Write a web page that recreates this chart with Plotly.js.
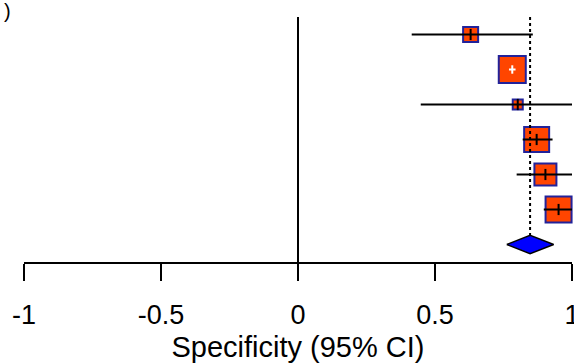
<!DOCTYPE html>
<html>
<head>
<meta charset="utf-8">
<script src="https://cdn.plot.ly/plotly-3.0.1.min.js"></script>
<style>html,body{margin:0;padding:0;background:#fff;}#chart{width:574px;height:363px;}</style>
</head>
<body>
<div id="chart"></div>
<script>
// ---- data ----
const studyRows = [1, 2, 3, 4, 5, 6];
const specificity = [0.630, 0.782, 0.802, 0.871, 0.903, 0.951];
const ciLower = [0.415, 0.770, 0.448, 0.820, 0.798, 0.897];
const ciUpper = [0.857, 0.794, 1.000, 0.929, 1.000, 1.000];
const studyWeight = [15, 27, 10, 25, 22, 26];
const pooledRow = 7;
const pooledSpec = 0.847;
const pooledLower = 0.762;
const pooledUpper = 0.933;
const tickValues = [-1, -0.5, 0, 0.5, 1];
const tickLabels = ['-1', '-0.5', '0', '0.5', '1'];
const xTitle = 'Specificity (95% CI)';

// ---- styling ----
const FONT = 'Liberation Sans, Arial, sans-serif';
const plotW = 574 - 24 - 2;
const pxPerUnit = plotW / 2;

const traces = [];
// squares
traces.push({
  x: specificity, y: studyRows, type: 'scatter', mode: 'markers', cliponaxis: false,
  opacity: 1,
  marker: {symbol: 'square', size: studyWeight, color: '#FF4500', opacity: 1,
           line: {color: '#22229A', width: 2}},
  hoverinfo: 'x'
});
// CI lines and centre ticks
for (let i = 0; i < studyRows.length; i++) {
  const inside = (ciUpper[i] - ciLower[i]) * pxPerUnit < studyWeight[i];
  const col = inside ? '#FFFFFF' : '#000000';
  traces.push({
    x: [ciLower[i], ciUpper[i]], y: [studyRows[i], studyRows[i]],
    type: 'scatter', mode: 'lines', cliponaxis: false,
    line: {color: col, width: 2}, hoverinfo: 'skip'
  });
  traces.push({
    x: [specificity[i]], y: [studyRows[i]], type: 'scatter', mode: 'markers', cliponaxis: false,
    marker: {symbol: 'line-ns-open', size: inside ? 6 : 8, color: col, opacity: 1,
             line: {color: col, width: 2}},
    hoverinfo: 'skip'
  });
}
// pooled dotted line
const dh = 0.26;
traces.push({
  x: [pooledSpec, pooledSpec], y: [0.5, pooledRow - dh], type: 'scatter', mode: 'lines',
  line: {color: '#000000', width: 2, dash: 'dot'}, hoverinfo: 'skip'
});
// pooled diamond
traces.push({
  x: [pooledLower, pooledSpec, pooledUpper, pooledSpec, pooledLower],
  y: [pooledRow, pooledRow - dh, pooledRow, pooledRow + dh, pooledRow],
  type: 'scatter', mode: 'lines', fill: 'toself', fillcolor: '#0000FF',
  line: {color: '#000000', width: 1.5}, hoverinfo: 'skip'
});

const layout = {
  width: 574, height: 363,
  margin: {l: 24, r: 2, t: 17, b: 101, pad: 0},
  paper_bgcolor: '#ffffff', plot_bgcolor: '#ffffff',
  showlegend: false,
  font: {family: FONT, color: '#000000'},
  xaxis: {
    range: [-1, 1], fixedrange: true,
    tickmode: 'array', tickvals: tickValues, ticktext: tickLabels,
    showgrid: false, zeroline: true, zerolinecolor: '#000000', zerolinewidth: 2,
    showline: true, linecolor: '#000000', linewidth: 2,
    ticks: 'outside', ticklen: 17, tickwidth: 2, tickcolor: '#000000',
    ticklabelstandoff: 11, ticklabeloverflow: 'allow',
    tickfont: {family: FONT, size: 27, color: '#000000'},
    title: {text: xTitle, font: {family: FONT, size: 29, color: '#000000'}, standoff: 13}
  },
  yaxis: {range: [7.5, 0.5], visible: false, fixedrange: true},
  annotations: [{
    text: ')', xref: 'paper', yref: 'paper', x: (2 - 24) / plotW, y: 1 + 6 / 245,
    xanchor: 'left', yanchor: 'middle', showarrow: false,
    font: {family: FONT, size: 20, color: '#000000'}
  }]
};

Plotly.newPlot('chart', traces, layout, {staticPlot: true, displayModeBar: false});
</script>
</body>
</html>
